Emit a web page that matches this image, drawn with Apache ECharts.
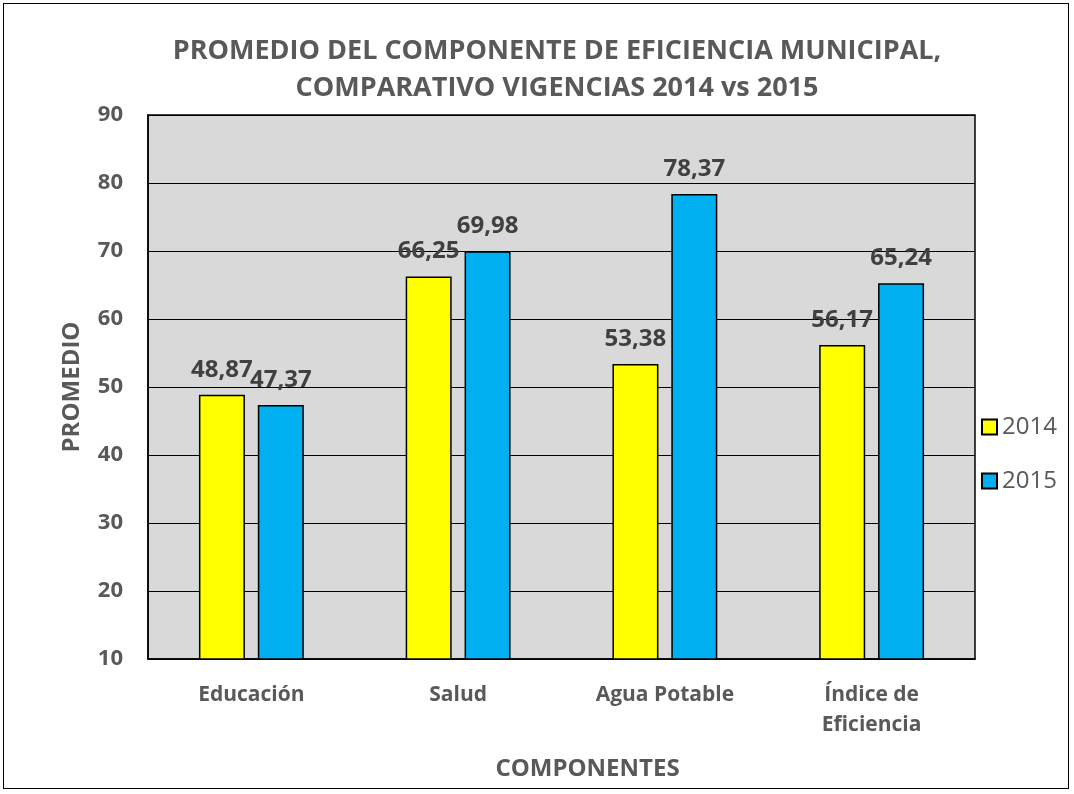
<!DOCTYPE html>
<html lang="es">
<head>
<meta charset="utf-8">
<title>Promedio del componente de eficiencia municipal</title>
<script src="https://cdn.jsdelivr.net/npm/echarts@6/dist/echarts.min.js"></script>
<style>
  html, body { margin: 0; padding: 0; background: #fff; }
  #frame { position: absolute; left: 3px; top: 3px; width: 1066px; height: 786px; border: 1.5px solid #000; box-sizing: border-box; }
  #main { width: 1074px; height: 794px; }
</style>
</head>
<body>
<div id="main"></div>
<div id="frame"></div>
<script>
  // datos
  var categorias = ['Educación', 'Salud', 'Agua Potable', 'Índice de\nEficiencia'];
  var valores2014 = [48.87, 66.25, 53.38, 56.17];
  var valores2015 = [47.37, 69.98, 78.37, 65.24];
  var anios = ['2014', '2015'];

  var gris = '#595959';
  var fuente = '"Open Sans", sans-serif';

  var chart = echarts.init(document.getElementById('main'));

  function etiqueta(v) {
    return v.value.toFixed(2).replace('.', ',');
  }

  var option = {
    textStyle: { fontFamily: fuente },
    title: {
      text: 'PROMEDIO DEL COMPONENTE DE EFICIENCIA MUNICIPAL,\nCOMPARATIVO VIGENCIAS 2014 vs 2015',
      left: 552,
      textAlign: 'center',
      top: 28,
      textStyle: { fontFamily: fuente, fontSize: 27, fontWeight: 'bold', color: gris, lineHeight: 37 }
    },
    legend: {
      data: anios,
      orient: 'vertical',
      left: 976,
      top: 410,
      itemWidth: 15,
      itemHeight: 15,
      itemGap: 30,
      textStyle: { fontFamily: fuente, fontSize: 24, color: gris },
      icon: 'rect'
    },
    grid: { left: 148, right: 99, top: 115, bottom: 135, show: true, backgroundColor: '#D9D9D9', borderColor: '#000', borderWidth: 1.5 },
    xAxis: {
      type: 'category',
      data: categorias,
      name: 'COMPONENTES',
      nameLocation: 'middle',
      nameGap: 98,
      nameTextStyle: { fontFamily: fuente, fontSize: 24, fontWeight: 'bold', color: gris, padding: [0, 0, 0, 52] },
      axisLine: { lineStyle: { color: '#000', width: 1.5 } },
      axisTick: { show: false },
      axisLabel: { fontFamily: fuente, fontSize: 21, fontWeight: 'bold', color: gris, margin: 21, lineHeight: 30 }
    },
    yAxis: {
      type: 'value',
      min: 10,
      max: 90,
      interval: 10,
      name: 'PROMEDIO',
      nameLocation: 'middle',
      nameGap: 64,
      nameTextStyle: { fontFamily: fuente, fontSize: 24, fontWeight: 'bold', color: gris },
      axisLine: { show: true, lineStyle: { color: '#000', width: 1.5 } },
      axisTick: { show: false },
      splitLine: { lineStyle: { color: '#000', width: 1.2 } },
      axisLabel: { fontFamily: fuente, fontSize: 22, fontWeight: 'bold', color: gris, margin: 25 }
    },
    series: [
      {
        name: anios[0],
        type: 'bar',
        data: valores2014,
        barWidth: 46,
        barGap: '28%',
        itemStyle: { color: '#FFFF00', borderColor: '#000', borderWidth: 1.5 },
        label: { show: true, position: 'top', distance: 13, formatter: etiqueta, fontFamily: fuente, fontSize: 24, fontWeight: 'bold', color: '#404040' }
      },
      {
        name: anios[1],
        type: 'bar',
        data: valores2015,
        barWidth: 46,
        itemStyle: { color: '#00B0F0', borderColor: '#000', borderWidth: 1.5 },
        label: { show: true, position: 'top', distance: 13, formatter: etiqueta, fontFamily: fuente, fontSize: 24, fontWeight: 'bold', color: '#404040' }
      }
    ]
  };

  chart.setOption(option);
</script>
</body>
</html>
